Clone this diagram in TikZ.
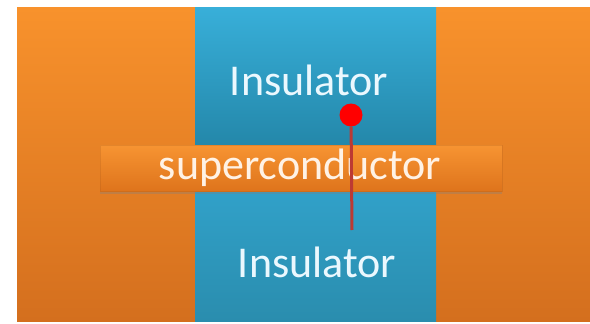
\documentclass[tikz,border=0pt]{standalone}
\usepackage{fontspec}
\setmainfont{Carlito}
\usetikzlibrary{shadows}
\definecolor{orangeTop}{HTML}{F8922C}
\definecolor{orangeBot}{HTML}{D46F1E}
\definecolor{blueTop}{HTML}{38AFD9}
\definecolor{blueMid}{HTML}{2386A8}
\definecolor{blueLow}{HTML}{33A7D1}
\definecolor{blueBot}{HTML}{2A8DAE}
\definecolor{barTop}{HTML}{F79432}
\definecolor{barBot}{HTML}{DE741C}
\definecolor{wireRed}{HTML}{BC3A33}
\tikzset{
  layertext/.style={font=\fontsize{44}{44}\selectfont, inner sep=0pt},
  insulabel/.style={layertext, text=white!92!cyan},
  barlabel/.style={layertext, text=white!90!orange},
}
\begin{document}
\begin{tikzpicture}[x=1pt,y=-1pt]
  \useasboundingbox (0,0) rectangle (590,324);
  \fill[white] (0,0) rectangle (590,324);
  % orange electrodes
  \shade[top color=orangeTop, bottom color=orangeBot] (17,7) rectangle (590,321);
  % insulating column, upper and lower parts
  \shade[top color=blueTop, bottom color=blueMid] (195,7) rectangle (436,150);
  \shade[top color=blueLow, bottom color=blueBot] (195,150) rectangle (436,321);
  % superconducting strip with drop shadow
  \shade[top color=barTop, bottom color=barBot, drop shadow={shadow xshift=0pt, shadow yshift=-3pt, opacity=0.35}]
    (100,145) rectangle (502,191);
  \draw[orangeBot!80!black, opacity=0.25, line width=0.6pt] (100,145) rectangle (502,191);
  % labels
  \node[insulabel] (topins) at (309,80) {Insulator};
  \node[barlabel] (sc) at (300,168) {superconductor};
  \node[insulabel] (botins) at (317,262) {Insulator};
  % particle and its path
  \node[circle, fill=red, minimum size=23pt, inner sep=0pt] (dot) at (351,115) {};
  \coordinate (tail) at (352,230);
  \draw[wireRed, line width=3pt] (dot) -- (tail);
\end{tikzpicture}
\end{document}
